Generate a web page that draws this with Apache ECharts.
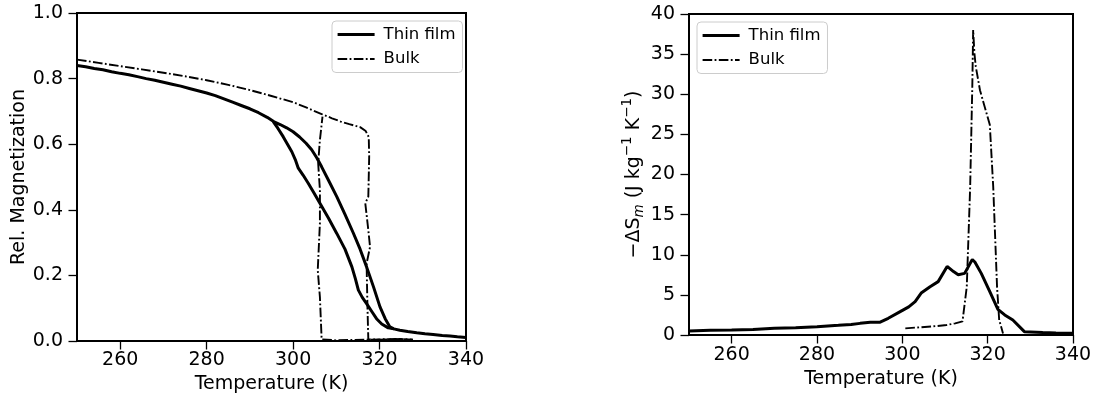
<!DOCTYPE html>
<html><head><meta charset="utf-8">
<script src="https://cdn.jsdelivr.net/npm/echarts@6/dist/echarts.min.js"></script>
<style>html,body{margin:0;padding:0;background:#fff}#c{width:1095px;height:400px}</style>
</head><body><div id="c"></div>
<script>
// ---------- Left panel: relative magnetization ----------
const thinHeatT = [250,252,254,256,258,260,262,264,266,268,270,272,274,276,278,280,282,284,286,288,290,292,294,295.5,
  297,298.5,300,301.5,303,304.3,305.5,306.6,308.3,310.1,312,313.9,315.5,317,318.6,320.1,321.3,322.4,323.3,324.7,326.5,328.6,330.5,332.4,334.5,336.3,338,340];
const thinHeatM = [0.840,0.836,0.831,0.827,0.821,0.816,0.812,0.806,0.800,0.795,0.789,0.783,0.777,0.770,0.763,0.756,0.748,0.738,0.728,0.718,0.708,0.696,0.682,0.669,
  0.660,0.650,0.638,0.622,0.603,0.583,0.558,0.531,0.487,0.440,0.386,0.330,0.280,0.226,0.165,0.104,0.068,0.043,0.037,0.033,0.029,0.025,0.022,0.020,0.017,0.015,0.013,0.011];
const thinCoolT = [295.4,296.5,297.7,298.7,299.7,300.5,301.2,302.3,303.5,304.8,306.2,308.2,310.1,312,313.6,314.4,315.1,316,317,318.2,319.3,320.5,322.0,323.3];
const thinCoolM = [0.669,0.648,0.623,0.600,0.577,0.553,0.527,0.506,0.481,0.452,0.420,0.374,0.328,0.280,0.226,0.190,0.155,0.133,0.114,0.090,0.068,0.052,0.040,0.037];
const bulkHeatT = [250,255,260,265,270,275,280,285,290,295,300,303,306.6,309,311,313,315.5,316.8,317.5,317.6,317.4,316.7,317.4,317.8,317.0,317.2,317.4,320,322.5,325,327.7];
const bulkHeatM = [0.858,0.848,0.838,0.828,0.818,0.807,0.795,0.781,0.765,0.747,0.728,0.712,0.692,0.679,0.669,0.661,0.652,0.640,0.622,0.562,0.440,0.420,0.338,0.287,0.236,0.104,0.005,0.004,0.005,0.006,0.004];
const bulkCoolT = [327.7,324,320,317,313,310,306.6,306.2,305.7,306.2,306.2,305.8,306.2,306.8];
const bulkCoolM = [0.004,0.006,0.005,0.004,0.003,0.002,0.005,0.134,0.216,0.359,0.460,0.542,0.613,0.684];

// ---------- Right panel: entropy change ----------
const thinST = [250,255,260,265,270,275,280,285,288,290.1,292.5,294.8,296.7,299.5,301.5,303,304.5,306.5,308.4,310.5,312,313.1,314.6,316.4,317,318.5,320.5,322.4,324,325.9,328.6,332.9,336,340];
const thinSV = [0.50,0.60,0.62,0.70,0.83,0.90,1.04,1.20,1.30,1.45,1.58,1.60,2.08,2.91,3.50,4.15,5.27,6.02,6.65,8.55,7.90,7.50,7.68,9.40,9.10,7.68,5.40,3.20,2.50,1.87,0.42,0.32,0.26,0.21];
const bulkST = [300.7,304.2,308.1,310.4,312.4,314.1,315.1,315.9,316.4,316.6,316.9,317.2,318.2,320.5,321.3,322.2,322.7,323.6];
const bulkSV = [0.83,0.96,1.12,1.25,1.45,1.70,6.0,18.5,31.0,38.0,35.1,33.5,30.5,26.2,18.5,6.0,1.87,0.2];

// ---------- Ticks ----------
const xTicks = [260,280,300,320,340];
const leftYTicks = [0,0.2,0.4,0.6,0.8,1.0];
const rightYTicks = [0,5,10,15,20,25,30,35,40];
const legendNames = ['Thin film','Bulk'];

const zip = (a,b) => a.map((v,i) => [v,b[i]]);
const FONT = 'DejaVu Sans';
const solid = {color:'#000', width:3};
const dashdot = {color:'#000', width:1.9, type:[9.6,2.4,1.8,2.4]};

function xAxis(idx, margin, gap){
  return {type:'value', gridIndex:idx, min:250, max:340,
    name:'Temperature (K)', nameLocation:'middle', nameGap:gap,
    nameTextStyle:{fontFamily:FONT, fontSize:19, color:'#000'},
    axisLine:{show:true, lineStyle:{color:'#000', width:2}},
    axisTick:{show:true, length:8.5, lineStyle:{color:'#000', width:1.3}, customValues:xTicks},
    axisLabel:{fontFamily:FONT, fontSize:19, color:'#000', margin:margin, customValues:xTicks},
    splitLine:{show:false}};
}
function yAxis(idx, max, ticks, fmt, nameCfg){
  return Object.assign({type:'value', gridIndex:idx, min:0, max:max,
    nameLocation:'middle', nameRotate:90,
    axisLine:{show:true, lineStyle:{color:'#000', width:2}},
    axisTick:{show:true, length:8.5, lineStyle:{color:'#000', width:1.3}, customValues:ticks},
    axisLabel:{fontFamily:FONT, fontSize:19, color:'#000', margin:14, customValues:ticks, formatter:fmt},
    splitLine:{show:false}}, nameCfg);
}
function legend(left, top){
  return {data:[
      {name:legendNames[0], lineStyle:{width:3.2, color:'#000'}},
      {name:legendNames[1], lineStyle:{width:2, color:'#000'}}
    ], orient:'vertical', left:left, top:top,
    itemWidth:37, itemHeight:16, itemGap:7.5,
    padding:[5,7,5,4], borderColor:'#cccccc', borderWidth:1, borderRadius:4,
    backgroundColor:'rgba(255,255,255,0.8)',
    itemStyle:{opacity:0},
    textStyle:{fontFamily:FONT, fontSize:16.5, color:'#000', padding:[0,0,0,4]}};
}

const chart = echarts.init(document.getElementById('c'), null, {renderer:'canvas'});
const common = {type:'line', symbol:'none', showSymbol:false, clip:true, itemStyle:{color:'#000'}};
chart.setOption({
  animation:false,
  textStyle:{fontFamily:FONT},
  grid:[
    {left:77, top:13, width:389, height:328, show:true, borderColor:'#000', borderWidth:2, backgroundColor:'transparent'},
    {left:689, top:14, width:384, height:321, show:true, borderColor:'#000', borderWidth:2, backgroundColor:'transparent'}
  ],
  xAxis:[xAxis(0,10,30), xAxis(1,11,34)],
  yAxis:[
    yAxis(0,1,leftYTicks,v=>v.toFixed(1),{name:'Rel. Magnetization', nameGap:48,
      nameTextStyle:{fontFamily:FONT, fontSize:19, color:'#000'}}),
    yAxis(1,40,rightYTicks,v=>String(v),{name:'−ΔS{sub|m} (J kg{sup|−1} K{sup|−1})', nameGap:38,
      nameTextStyle:{fontFamily:FONT, fontSize:19, color:'#000', lineHeight:26,
        rich:{
          sub:{fontFamily:FONT, fontSize:13.5, fontStyle:'italic', color:'#000', verticalAlign:'bottom', lineHeight:26},
          sup:{fontFamily:FONT, fontSize:13.5, color:'#000', verticalAlign:'top', lineHeight:26}
        }}})
  ],
  legend:[legend(332,21), legend(697,22)],
  series:[
    Object.assign({name:'Thin film', xAxisIndex:0, yAxisIndex:0, data:zip(thinHeatT,thinHeatM), lineStyle:solid}, common),
    Object.assign({name:'Bulk', xAxisIndex:0, yAxisIndex:0, data:zip(bulkHeatT,bulkHeatM), lineStyle:dashdot}, common),
    Object.assign({name:'Thin film', xAxisIndex:0, yAxisIndex:0, data:zip(thinCoolT,thinCoolM), lineStyle:solid}, common),
    Object.assign({name:'Bulk', xAxisIndex:0, yAxisIndex:0, data:zip(bulkCoolT,bulkCoolM), lineStyle:dashdot}, common),
    Object.assign({name:'Thin film', xAxisIndex:1, yAxisIndex:1, data:zip(thinST,thinSV), lineStyle:solid}, common),
    Object.assign({name:'Bulk', xAxisIndex:1, yAxisIndex:1, data:zip(bulkST,bulkSV), lineStyle:dashdot}, common)
  ]
});
</script></body></html>
